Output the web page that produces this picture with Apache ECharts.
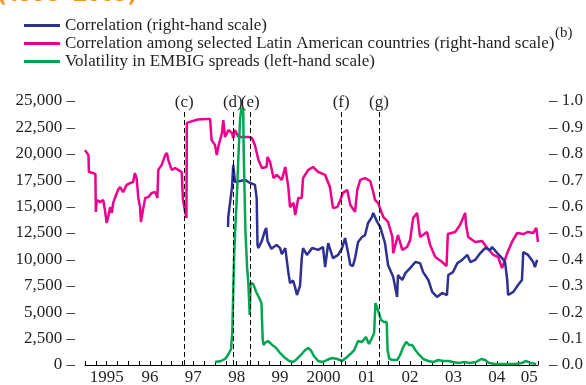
<!DOCTYPE html>
<html><head><meta charset="utf-8">
<script src="https://cdn.jsdelivr.net/npm/echarts@6/dist/echarts.min.js"></script>
<style>html,body{margin:0;padding:0;background:#fff;overflow:hidden}#c{width:586px;height:385px}</style>
</head><body><div id="c"></div>
<script>
// ---- data ----
const seriesNames = [
  'Correlation (right-hand scale)',
  'Correlation among selected Latin American countries (right-hand scale)',
  'Volatility in EMBIG spreads (left-hand scale)'
];
const corrYears = [1998.30,1998.305,1998.36,1998.39,1998.42,1998.46,1998.50,1998.58,1998.70,1998.77,1998.92,1998.96,1998.98,1999.00,1999.08,1999.15,1999.18,1999.21,1999.30,1999.42,1999.50,1999.54,1999.62,1999.66,1999.69,1999.73,1999.80,1999.85,1999.89,1999.96,2000.00,2000.03,2000.12,2000.24,2000.38,2000.49,2000.54,2000.61,2000.72,2000.84,2000.93,2001.00,2001.07,2001.12,2001.18,2001.23,2001.30,2001.39,2001.46,2001.53,2001.62,2001.65,2001.74,2001.81,2001.92,2001.99,2002.11,2002.20,2002.22,2002.32,2002.39,2002.50,2002.62,2002.73,2002.80,2002.92,2003.01,2003.12,2003.24,2003.35,2003.38,2003.49,2003.59,2003.70,2003.82,2003.89,2004.00,2004.12,2004.23,2004.35,2004.39,2004.51,2004.62,2004.69,2004.74,2004.76,2004.88,2004.99,2005.08,2005.11,2005.22,2005.34,2005.38,2005.43];
const corrValues = [0.523,0.561,0.633,0.670,0.758,0.693,0.689,0.697,0.701,0.693,0.682,0.633,0.455,0.443,0.470,0.508,0.519,0.470,0.440,0.455,0.443,0.420,0.443,0.439,0.352,0.310,0.320,0.292,0.265,0.300,0.405,0.443,0.417,0.443,0.436,0.447,0.371,0.462,0.405,0.417,0.443,0.481,0.424,0.379,0.375,0.405,0.466,0.485,0.492,0.538,0.561,0.576,0.542,0.523,0.462,0.379,0.333,0.258,0.341,0.322,0.348,0.367,0.390,0.386,0.352,0.322,0.277,0.258,0.273,0.265,0.341,0.352,0.386,0.398,0.417,0.390,0.398,0.424,0.443,0.436,0.447,0.424,0.405,0.390,0.322,0.265,0.277,0.303,0.322,0.428,0.417,0.390,0.371,0.398];

const latamYears = [1995.00,1995.08,1995.09,1995.19,1995.24,1995.25,1995.27,1995.35,1995.42,1995.46,1995.50,1995.53,1995.58,1995.62,1995.65,1995.69,1995.76,1995.81,1995.88,1995.96,1996.04,1996.11,1996.15,1996.19,1996.23,1996.27,1996.29,1996.35,1996.39,1996.46,1996.54,1996.62,1996.67,1996.69,1996.77,1996.85,1996.89,1996.92,1997.00,1997.08,1997.15,1997.23,1997.26,1997.31,1997.34,1997.35,1997.40,1997.60,1997.80,1997.885,1997.92,1998.00,1998.04,1998.08,1998.16,1998.19,1998.23,1998.31,1998.39,1998.42,1998.46,1998.54,1998.77,1998.85,1998.92,1999.00,1999.08,1999.19,1999.21,1999.27,1999.35,1999.42,1999.54,1999.62,1999.69,1999.73,1999.81,1999.85,1999.92,2000.00,2000.03,2000.15,2000.26,2000.38,2000.54,2000.65,2000.72,2000.82,2000.89,2000.95,2001.05,2001.12,2001.23,2001.28,2001.35,2001.46,2001.58,2001.65,2001.69,2001.76,2001.88,2001.99,2002.09,2002.11,2002.22,2002.32,2002.43,2002.50,2002.57,2002.66,2002.73,2002.89,2002.96,2003.08,2003.24,2003.34,2003.37,2003.54,2003.65,2003.77,2003.79,2003.84,2004.00,2004.16,2004.28,2004.42,2004.53,2004.62,2004.74,2004.85,2004.97,2005.11,2005.22,2005.34,2005.41,2005.45];
const latamValues = [0.814,0.795,0.731,0.727,0.723,0.580,0.625,0.617,0.625,0.587,0.538,0.557,0.598,0.576,0.614,0.617,0.663,0.674,0.655,0.682,0.689,0.693,0.727,0.708,0.633,0.598,0.542,0.598,0.633,0.636,0.652,0.655,0.633,0.739,0.758,0.795,0.803,0.777,0.739,0.746,0.739,0.731,0.625,0.580,0.557,0.917,0.920,0.930,0.932,0.932,0.852,0.833,0.795,0.830,0.879,0.928,0.864,0.890,0.879,0.860,0.890,0.864,0.864,0.860,0.833,0.777,0.746,0.750,0.788,0.769,0.708,0.720,0.701,0.750,0.674,0.598,0.614,0.568,0.633,0.633,0.708,0.739,0.750,0.731,0.720,0.674,0.595,0.598,0.625,0.652,0.663,0.606,0.580,0.663,0.701,0.708,0.697,0.655,0.625,0.614,0.561,0.542,0.485,0.424,0.492,0.436,0.447,0.473,0.557,0.576,0.485,0.504,0.455,0.409,0.390,0.375,0.496,0.504,0.530,0.576,0.530,0.485,0.466,0.470,0.443,0.417,0.409,0.367,0.424,0.466,0.500,0.496,0.504,0.500,0.519,0.466];

const volYears = [1998.00,1998.14,1998.23,1998.30,1998.37,1998.40,1998.42,1998.44,1998.47,1998.51,1998.54,1998.58,1998.61,1998.65,1998.66,1998.68,1998.70,1998.74,1998.77,1998.80,1998.82,1998.88,1998.95,1999.02,1999.07,1999.10,1999.12,1999.15,1999.22,1999.32,1999.41,1999.50,1999.59,1999.71,1999.80,1999.89,1999.98,2000.08,2000.15,2000.22,2000.28,2000.38,2000.47,2000.58,2000.70,2000.82,2000.93,2001.02,2001.12,2001.21,2001.30,2001.39,2001.48,2001.55,2001.62,2001.67,2001.70,2001.74,2001.78,2001.83,2001.90,2001.96,2001.98,2002.02,2002.11,2002.20,2002.27,2002.34,2002.41,2002.48,2002.55,2002.62,2002.71,2002.80,2002.92,2003.03,2003.15,2003.26,2003.38,2003.49,2003.61,2003.75,2003.88,2004.02,2004.14,2004.23,2004.32,2004.46,2004.69,2004.92,2005.08,2005.18,2005.27,2005.41];
const volValues = [280,380,570,950,1520,3310,7100,10400,13260,16570,19900,23390,24340,24150,20360,16570,12780,9190,7580,4740,7770,7670,6910,6340,5870,2370,1890,2080,2270,1890,1610,1140,760,380,280,570,950,1420,1610,1330,850,380,280,470,660,570,380,660,1040,1420,2270,2180,2650,1990,2560,3030,5870,5400,4920,4260,4070,4070,1420,570,470,470,950,1700,2180,1890,1890,1420,950,570,380,280,470,380,380,280,190,280,190,280,570,470,190,95,95,95,190,380,190,95];

const eventYears = [1997.29,1998.41,1998.81,2000.91,2001.78];
const eventLabels = ['(c)','(d)','(e)','(f)','(g)'];
const eventTop = 24200;

const xLabelPos = [1995.5,1996.5,1997.5,1998.5,1999.5,2000.5,2001.5,2002.5,2003.5,2004.5,2005.25];
const xLabelText = ['1995','96','97','98','99','2000','01','02','03','04','05'];

// ---- chart ----
const FONT = 'Liberation Serif';
const TXT = '#231f20';
const pairs = (xs, ys) => xs.map((x, i) => [x, ys[i]]);
const chart = echarts.init(document.getElementById('c'), null, {renderer: 'canvas'});
chart.setOption({
  animation: false,
  backgroundColor: '#fff',
  grid: {left: 85, right: 48, top: 101, bottom: 20, containLabel: false, outerBoundsMode: 'none'},
  legend: {
    data: seriesNames,
    orient: 'vertical', left: 19, top: 12,
    icon: 'rect', itemWidth: 36, itemHeight: 3, itemGap: 1,
    textStyle: {fontFamily: FONT, fontSize: 17, color: TXT, lineHeight: 17},
    selectedMode: false
  },
  graphic: [
    {type: 'text', left: -2, top: -18, style: {text: '(1995–2005)', fill: '#F7941D', font: 'bold 24px "Open Sans"'}},
    {type: 'text', left: 555, top: 26, style: {text: '(b)', fill: TXT, font: '15px "Liberation Serif"'}}
  ],
  xAxis: {
    type: 'value', min: 1995, max: 2005.45, interval: 0.25,
    axisLine: {show: true, onZero: false, lineStyle: {color: '#000', width: 1}},
    axisTick: {show: true, inside: true, length: 4, lineStyle: {color: '#000', width: 1}},
    splitLine: {show: false},
    axisLabel: {
      inside: false, margin: 6, fontFamily: FONT, fontSize: 17, lineHeight: 14, color: TXT,
      showMinLabel: true, showMaxLabel: true, hideOverlap: false,
      formatter: v => {
        for (let i = 0; i < xLabelPos.length; i++) if (Math.abs(v - xLabelPos[i]) < 1e-6) return xLabelText[i];
        return '';
      }
    }
  },
  yAxis: [
    {type: 'value', min: 0, max: 25000, interval: 2500, position: 'left',
     axisLine: {show: false}, axisTick: {show: false}, splitLine: {show: false},
     axisLabel: {margin: 10, fontFamily: FONT, fontSize: 17, color: TXT,
       formatter: v => v.toLocaleString('en-US') + ' –'}},
    {type: 'value', min: 0, max: 1, interval: 0.1, position: 'right',
     axisLine: {show: false}, axisTick: {show: false}, splitLine: {show: false},
     axisLabel: {margin: 11, fontFamily: FONT, fontSize: 17, color: TXT,
       formatter: v => '– ' + v.toFixed(1)}}
  ],
  series: [
    {name: seriesNames[1], type: 'line', yAxisIndex: 1, showSymbol: false, symbol: 'none',
     data: pairs(latamYears, latamValues), lineStyle: {color: '#EC008C', width: 2.5}, itemStyle: {color: '#EC008C'}, z: 2},
    {name: seriesNames[0], type: 'line', yAxisIndex: 1, showSymbol: false, symbol: 'none',
     data: pairs(corrYears, corrValues), lineStyle: {color: '#2E3192', width: 2.5}, itemStyle: {color: '#2E3192'}, z: 3},
    {name: seriesNames[2], type: 'line', yAxisIndex: 0, showSymbol: false, symbol: 'none',
     data: pairs(volYears, volValues), lineStyle: {color: '#00A651', width: 2.5}, itemStyle: {color: '#00A651'}, z: 4,
     markLine: {
       silent: true, symbol: ['none', 'none'], animation: false,
       lineStyle: {color: '#000', width: 1, type: [5, 3]},
       label: {show: true, position: 'end', distance: -2, fontFamily: FONT, fontSize: 17, color: TXT},
       data: eventYears.map((y, i) => [
         {coord: [y, 0]},
         {coord: [y, eventTop], label: {formatter: eventLabels[i]}}
       ])
     }}
  ]
});
</script>
</body></html>
